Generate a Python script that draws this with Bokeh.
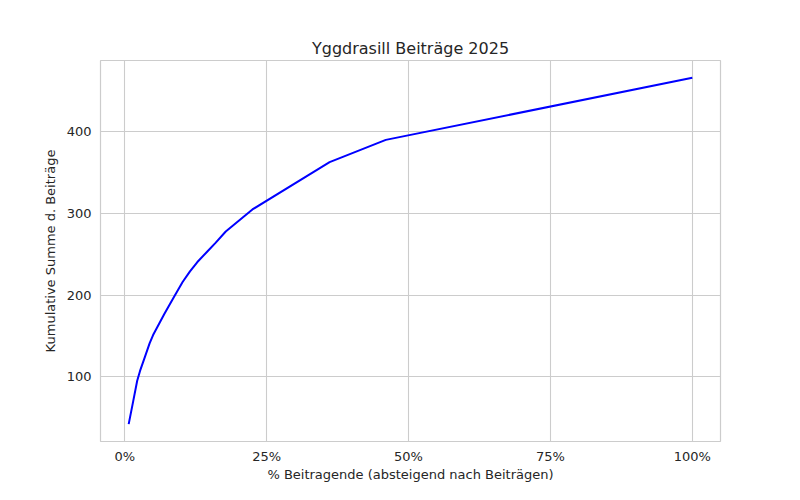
from bokeh.plotting import figure
from bokeh.models import Range1d, NumeralTickFormatter, FixedTicker
from bokeh.embed import file_html
from bokeh.resources import INLINE

# Anteil der Beitragenden (absteigend sortiert) und kumulative Summe
share_contributors = [0.007, 0.015, 0.022, 0.027, 0.035, 0.044, 0.050, 0.058,
                      0.070, 0.087, 0.102, 0.115, 0.128, 0.146, 0.160, 0.178,
                      0.225, 0.361, 0.460, 1.000]
cumulative_sum = [41.7, 70, 95, 107, 123, 141, 151, 161.5,
                  177, 198, 216, 229, 240.5, 253.8, 264, 278,
                  305, 363, 390.3, 466.4]

x_ticks = [0, 0.25, 0.5, 0.75, 1.0]
y_ticks = [100, 200, 300, 400]

title = "Yggdrasill Beiträge 2025"
font = "DejaVu Sans"
text_color = "#262626"
grid_color = "#cccccc"

p = figure(width=784, height=484, title=title,
           output_backend="svg", toolbar_location=None,
           x_axis_label="% Beitragende (absteigend nach Beiträgen)",
           y_axis_label="Kumulative Summe d. Beiträge",
           min_border_left=100, min_border_right=64,
           min_border_top=60, min_border_bottom=0)

# matplotlib-artige 5% Ränder
xmin, xmax = min(share_contributors), max(share_contributors)
ymin, ymax = min(cumulative_sum), max(cumulative_sum)
xpad = (xmax - xmin) * 0.05
ypad = (ymax - ymin) * 0.05
p.x_range = Range1d(xmin - xpad, xmax + xpad)
p.y_range = Range1d(ymin - ypad, ymax + ypad)

p.line(share_contributors, cumulative_sum, color="#0000ff", line_width=2)

p.title.align = "center"
p.title.text_font = font
p.title.text_font_size = "16px"
p.title.text_font_style = "normal"
p.title.text_color = text_color
p.title.standoff = 6

p.xaxis.ticker = FixedTicker(ticks=x_ticks)
p.yaxis.ticker = FixedTicker(ticks=y_ticks)
p.xaxis.formatter = NumeralTickFormatter(format="0%")

for ax in (p.xaxis, p.yaxis):
    ax.axis_line_color = None
    ax.major_tick_line_color = None
    ax.minor_tick_line_color = None
    ax.major_tick_out = 0
    ax.major_tick_in = 0
    ax.major_label_text_font = font
    ax.major_label_text_font_size = "13px"
    ax.major_label_text_color = text_color
    ax.major_label_standoff = 9
    ax.axis_label_text_font = font
    ax.axis_label_text_font_size = "13px"
    ax.axis_label_text_font_style = "normal"
    ax.axis_label_text_color = text_color
    ax.axis_label_standoff = 6

p.xaxis.major_label_standoff = 7
p.xaxis.axis_label_standoff = 0

p.grid.grid_line_color = grid_color
p.grid.grid_line_width = 1.1
p.outline_line_color = grid_color
p.outline_line_width = 1.2
p.background_fill_color = "white"
p.border_fill_color = "white"

open("out.html", "w").write(file_html(p, INLINE))
